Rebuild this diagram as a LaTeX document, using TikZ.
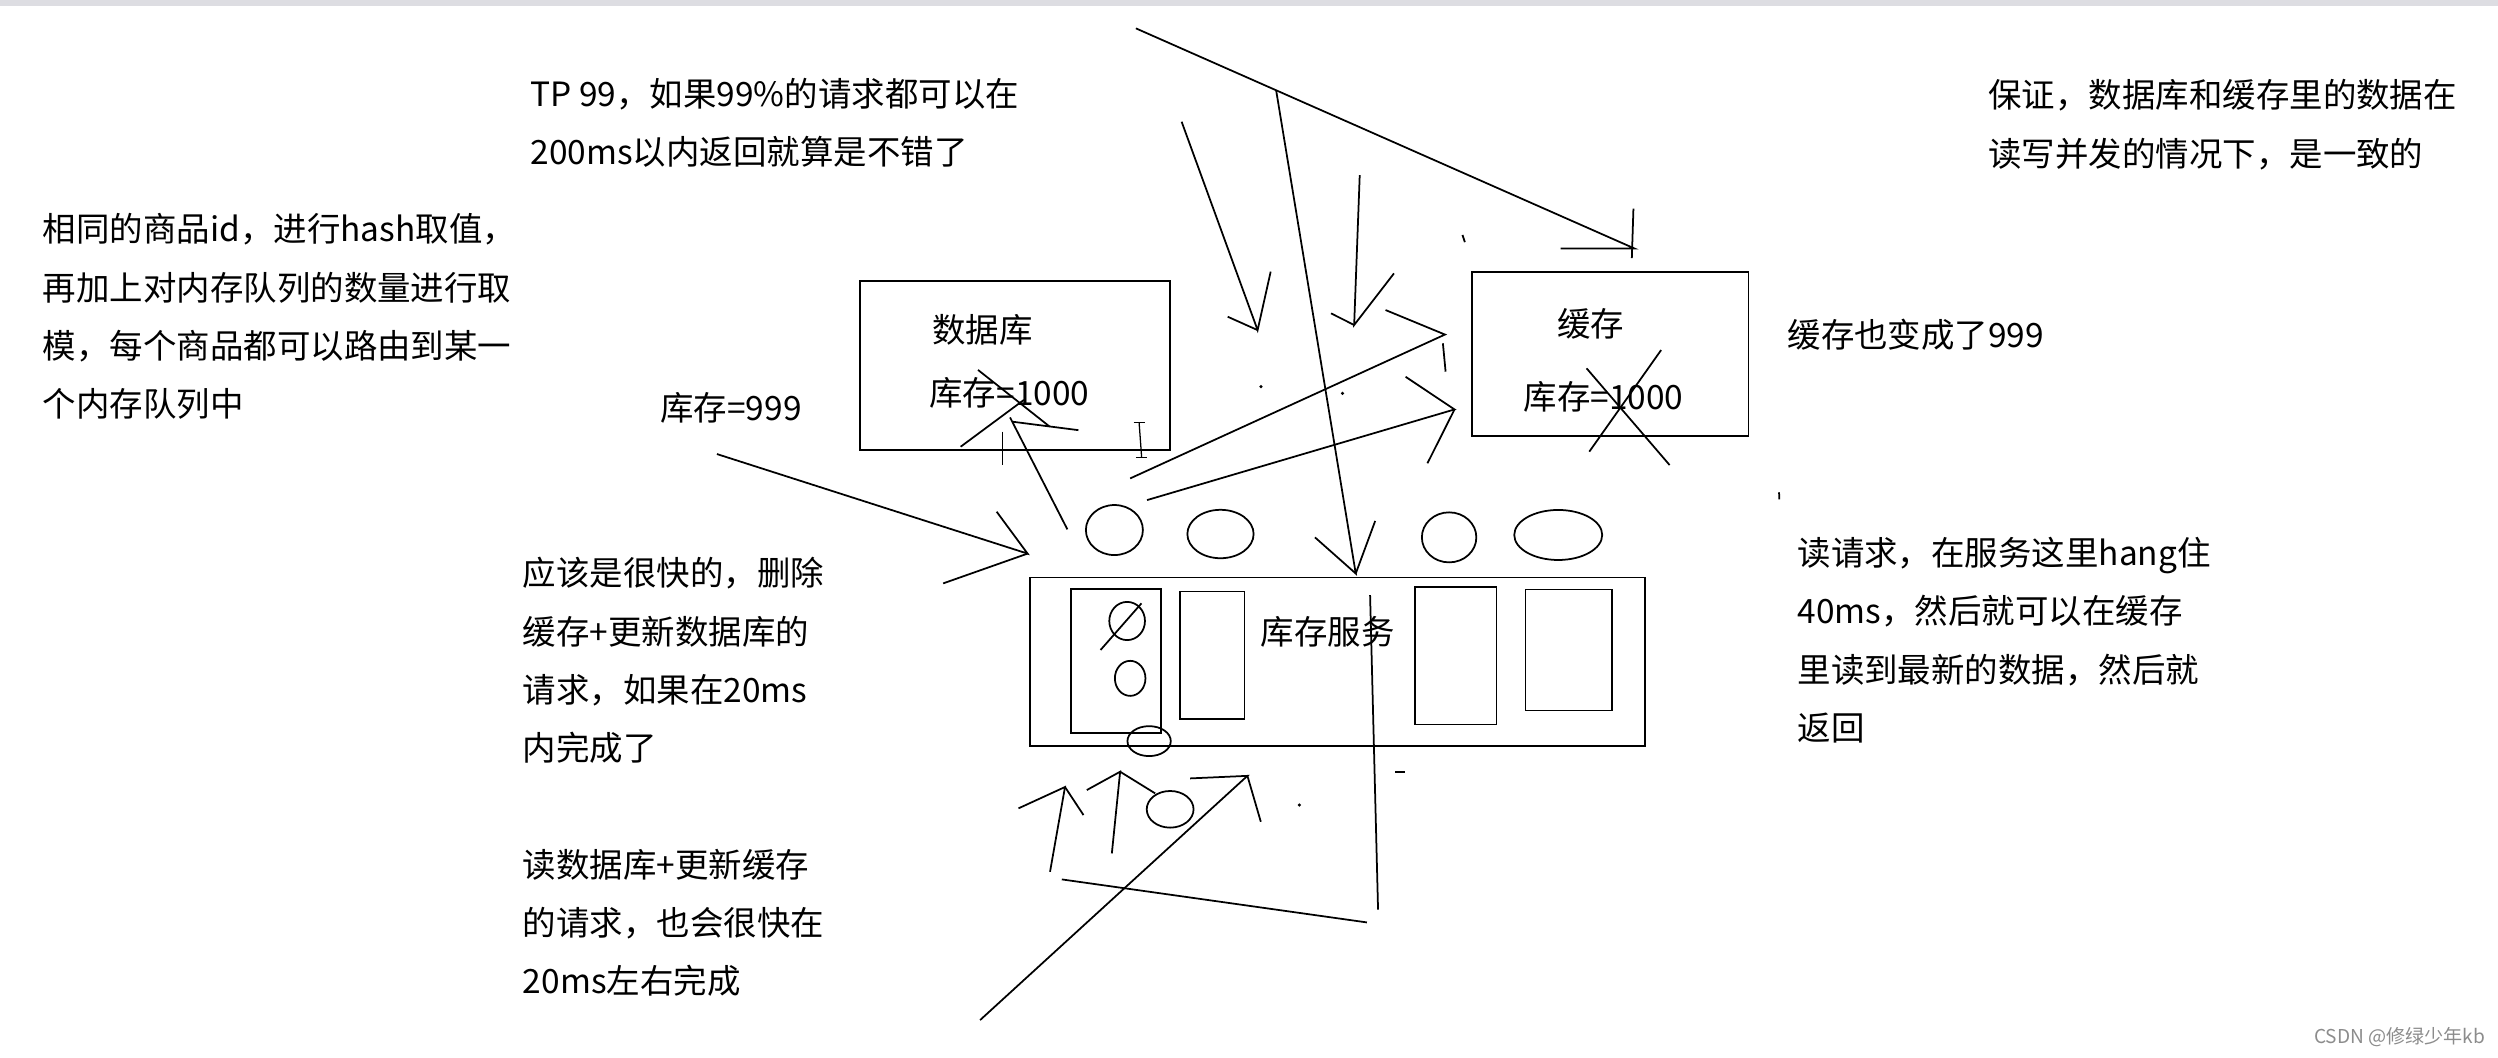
\documentclass[tikz,border=0pt]{standalone}
\usepackage{fontspec}
\setmainfont{Noto Sans CJK SC}
\usetikzlibrary{shapes}

\begin{document}
\begin{tikzpicture}[x=1pt,y=-1pt,line width=1.1pt]
\tikzset{note/.style = {anchor=north west,inner sep=0,align=left,font=\fontsize{21}{36.6}\selectfont}}
\tikzset{label/.style = {inner sep=0,font=\fontsize{21}{25}\selectfont}}
\tikzset{box/.style = {shape=rectangle,draw,inner sep=0}}
\tikzset{queue/.style = {shape=ellipse,draw,inner sep=0}}
\tikzset{dot/.style = {fill,inner sep=0,minimum size=2.2pt,shape=circle}}

\useasboundingbox (0,0) rectangle (1568,664);
\fill[blue!8!gray!25] (0,0) rectangle (1568,3.5);

% notes
\node[note] (tp) at (332.5,48.5) {TP 99，如果99\%的请求都可以在\\200ms以内返回就算是不错了};
\node[note] (keep) at (1247.6,49.5) {保证，数据库和缓存里的数据在\\读写并发的情况下，是一致的};
\node[note] (hash) at (26.4,133.5) {相同的商品id，进行hash取值，\\再加上对内存队列的数量进行取\\模，每个商品都可以路由到某一\\个内存队列中};
\node[note] (s999) at (414,245.7) {库存=999};
\node[note] (c999) at (1121.5,199.6) {缓存也变成了999};
\node[note] (fast) at (327.7,349.3) {应该是很快的，删除\\缓存+更新数据库的\\请求，如果在20ms\\内完成了};
\node[note] (rdb) at (327.7,532.4) {读数据库+更新缓存\\的请求，也会很快在\\20ms左右完成};
\node[note] (hang) at (1127.8,336.7) {读请求，在服务这里hang住\\40ms，然后就可以在缓存\\里读到最新的数据，然后就\\返回};
\node[anchor=west,inner sep=0,text=black!45,font=\fontsize{12}{14}\selectfont] (mark) at (1452,651) {CSDN @修绿少年kb};

% boxes
\node[box,minimum width=194.6,minimum height=106.1] (db) at (637.3,229.5) {};
\node[label] (dbname) at (616.6,207.2) {数据库};
\node[label] (dbval) at (633.6,246.9) {库存=1000};
\node[box,minimum width=173.7,minimum height=103.2] (cache) at (1010.7,222.1) {};
\node[label] (cname) at (998.5,203) {缓存};
\node[label] (cval) at (1006.6,249) {库存=1000};
\node[box,minimum width=386,minimum height=105.9] (svc) at (839.6,415.4) {};
\node[label] (sname) at (833.4,396.5) {库存服务};
\node[box,minimum width=56.7,minimum height=90.5] (r1) at (700.6,415) {};
\node[box,minimum width=40.7,minimum height=80.1] (r2) at (760.8,411.4) {};
\node[box,minimum width=51,minimum height=86.4] (r3) at (913.9,411.5) {};
\node[box,minimum width=54.1,minimum height=76.1] (r4) at (984.6,408) {};

% queues
\node[queue,minimum width=35.8,minimum height=31.4] (q1) at (699.5,332.7) {};
\node[queue,minimum width=41.6,minimum height=30.4] (q2) at (766.1,335.2) {};
\node[queue,minimum width=34.2,minimum height=31.4] (q3) at (909.6,337.3) {};
\node[queue,minimum width=55.2,minimum height=31.4] (q4) at (978.1,335.8) {};
\node[queue,minimum width=22.4,minimum height=24] (e1) at (707.5,389.8) {};
\node[queue,minimum width=19.2,minimum height=22] (e2) at (709.4,425.8) {};
\node[queue,minimum width=27.2,minimum height=18.8] (e3) at (721.3,465.2) {};
\node[queue,minimum width=29.4,minimum height=23] (e4) at (734.5,508) {};

% tips and free ends
\coordinate (tCache) at (1026,156);
\coordinate (tSvc) at (851,360);
\coordinate (tA) at (789.4,207.2);
\coordinate (tB) at (850,204);
\coordinate (tC) at (907,210);
\coordinate (tD) at (913,257);
\coordinate (tLeft) at (645,347.5);
\coordinate (tDb) at (634,262);
\coordinate (tE) at (668.5,494);
\coordinate (tF) at (703.1,484.4);
\coordinate (tG) at (783,487);
\coordinate (s1) at (713,17.8);
\coordinate (s2) at (801,56.5);
\coordinate (sA) at (741.7,76.4);
\coordinate (sB) at (853.5,109.9);
\coordinate (sC) at (709.4,300.3);
\coordinate (sD) at (720,313.9);
\coordinate (sLeft) at (450,285);
\coordinate (sDb) at (670,332.3);
\coordinate (sE) at (659.1,547.2);
\coordinate (sF) at (697.9,535.7);
\coordinate (sG) at (615.2,640.3);
\coordinate (v1) at (860,373.5);
\coordinate (v2) at (865,571);
\coordinate (w1) at (666.5,552);
\coordinate (w2) at (858,579);

%edges
\draw (s1) -- (tCache) -- ++(-46.4,0);
\draw ([shift={(-0.7,-25)}]tCache) -- ++(-1,31);
\draw (s2) -- (tSvc) -- ++(-25.6,-22.7);
\draw (tSvc) -- ++(12.2,-33);
\draw (v1) -- (v2);
\draw (sA) -- (tA) -- ++(8.2,-36.7);
\draw (tA) -- ++(-18.8,-8.4);
\draw (sB) -- (tB) -- ++(25,-32.4);
\draw (tB) -- ++(-14.5,-7.3);
\draw (sC) -- (tC) -- ++(-37.3,-15.4);
\draw ([shift={(-1.3,5.5)}]tC) -- ++(1.7,17.8);
\draw (sD) -- (tD) -- ++(-30.7,-20.5);
\draw (tD) -- ++(-17,33.8);
\draw (sLeft) -- (tLeft) -- ++(-19.4,-26.3);
\draw (tLeft) -- ++(-53,18.7);
\draw (sDb) -- (tDb);
\draw (613.9,232.2) -- (658.9,267.8);
\draw (642.7,251) -- (603,280.4);
\draw (635.5,264.7) -- (676.9,270);
\draw (629.3,271) -- (629.3,291.9);
\draw (sE) -- (tE) -- ++(-29.2,13.4);
\draw (tE) -- ++(11.6,17.6);
\draw (sF) -- (tF) -- ++(-20.9,11.5);
\draw (tF) -- ++(22,13.6);
\draw (sG) -- (tG) -- ++(-36,1.6);
\draw (tG) -- ++(8.4,28.8);
\draw (w1) -- (w2);

% scribbles
\draw (995.9,231.2) -- (1048,291.9);
\draw (1042.7,219.7) -- (997.6,283.5);
\draw (690.8,408) -- (716.5,378.7);
\draw[line width=0.8pt] (715,265) -- (716.6,287);
\draw[line width=0.8pt] (711.5,265) -- (718.5,265);
\draw[line width=0.8pt] (713,287) -- (720,287);
\draw (918,147.5) -- (919.5,152);
\draw (1116.7,309) -- (1116.9,313.5);
\draw (875.7,484.4) -- (882,484.4);
\node[dot] (d1) at (791.5,242.7) {};
\node[dot] (d2) at (842.7,246.9) {};
\node[dot] (d3) at (815.6,505.3) {};

\end{tikzpicture}
\end{document}
